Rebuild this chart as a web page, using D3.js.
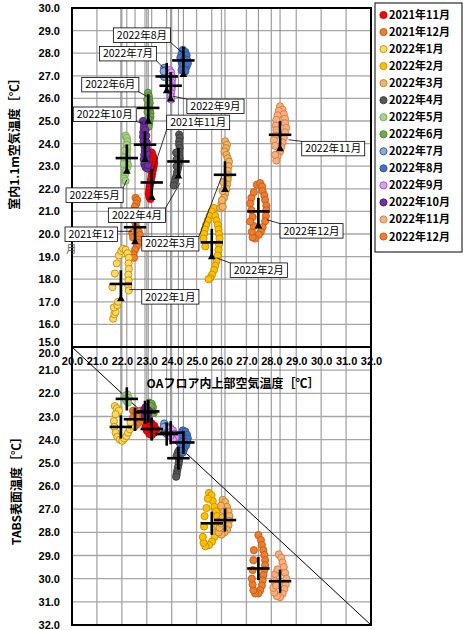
<!DOCTYPE html>
<html>
<head>
<meta charset="utf-8">
<script src="https://cdn.jsdelivr.net/npm/d3@7"></script>
<style>
  body { margin: 0; background: #fff; }
  svg { display: block; }
</style>
</head>
<body>
<svg id="chart" width="463" height="630"></svg>
<script>
// months in legend order
const months = ["2021年11月", "2021年12月", "2022年1月", "2022年2月", "2022年3月", "2022年4月",
  "2022年5月", "2022年6月", "2022年7月", "2022年8月", "2022年9月", "2022年10月", "2022年11月", "2022年12月"];
const fills = ["#FF0000", "#ED7D31", "#FFD966", "#FFC000", "#F2B46A", "#595959",
  "#A9D18E", "#70AD47", "#8FAADC", "#4472C4", "#DDA0F0", "#7030A0", "#F4B183", "#ED7D31"];
const strokes = ["#C00000", "#C55A11", "#BF9000", "#BF9000", "#B98027", "#3A3A3A",
  "#70AD47", "#507E32", "#2F5597", "#2F5597", "#9E48C8", "#4B1F6F", "#D9783A", "#C55A11"];

// monthly means: OA floor temp (x), room 1.1m temp (top), TABS surface (bottom)
const meanX   = [23.20, 22.53, 21.96, 25.61, 26.14, 24.27, 22.20, 23.06, 23.80, 24.47, 23.96, 22.93, 28.35, 27.48];
const meanTop = [22.28, 20.30, 17.79, 19.63, 22.62, 23.21, 23.36, 25.58, 26.97, 27.68, 26.56, 23.95, 24.39, 21.00];
const meanBot = [23.54, 23.12, 23.45, 27.61, 27.47, 24.80, 22.24, 22.78, 23.76, 24.12, 23.70, 22.82, 30.11, 29.56];
const triTop  = [21.60, 19.65, 17.12, 18.98, 21.96, 22.55, 22.77, 24.98, 26.33, 27.05, 25.96, 23.29, 23.76, 20.34];
const errX   = [0.45, 0.45, 0.45, 0.45, 0.45, 0.45, 0.45, 0.45, 0.45, 0.45, 0.45, 0.45, 0.45, 0.45];
const errTop = [0.6, 0.6, 0.6, 0.6, 0.6, 0.6, 0.6, 0.6, 0.6, 0.6, 0.6, 0.6, 0.6, 0.6];
const errBot = [0.5, 0.5, 0.5, 0.5, 0.5, 0.5, 0.5, 0.5, 0.5, 0.5, 0.5, 0.5, 0.5, 0.5];

// daily points, top chart [OA floor temp, room 1.1m temp]
const topPts = [
  [[23.2,23.6],[23.25,23.45],[23.28,23.3],[23.3,23.15],[23.28,23.0],[23.25,22.85],[23.22,22.7],[23.2,22.55],[23.17,22.4],[23.15,22.25],[23.12,22.1],[23.1,21.95],[23.08,21.8],[23.1,21.65],[23.15,21.55],[23.05,22.9],[23.08,23.1],[23.12,23.3]],
  [[22.55,21.6],[22.62,21.5],[22.58,21.35],[22.52,21.2],[22.48,21.0],[22.45,20.8],[22.5,20.6],[22.55,20.45],[22.62,20.25],[22.68,20.1],[22.72,19.95],[22.7,19.75],[22.66,19.6],[22.6,19.45],[22.53,19.3],[22.47,19.1],[22.49,18.95],[22.42,20.05],[22.45,19.85]],
  [[21.65,16.25],[21.7,16.45],[21.75,16.55],[21.68,16.75],[21.82,16.85],[21.85,17.0],[21.62,17.65],[21.72,18.25],[21.8,18.7],[21.88,19.05],[21.98,19.25],[22.05,19.35],[22.15,19.3],[22.23,19.15],[22.28,18.95],[22.27,18.7],[22.28,18.45],[22.26,18.2],[22.27,17.95],[22.26,17.7],[22.28,17.5]],
  [[25.7,21.15],[25.6,21.0],[25.52,20.8],[25.45,20.6],[25.38,20.4],[25.33,20.2],[25.3,20.0],[25.28,19.8],[25.35,19.45],[25.75,20.8],[25.8,20.6],[25.85,20.4],[25.88,20.2],[25.9,20.0],[25.92,19.8],[25.9,19.55],[25.88,19.3],[25.85,19.05],[25.8,18.8],[25.75,18.6],[25.7,18.4],[25.62,18.2],[25.55,18.05],[25.48,18.0]],
  [[26.15,24.1],[26.22,23.95],[26.18,23.8],[26.12,23.65],[26.2,23.5],[26.25,23.35],[26.3,23.2],[26.28,23.0],[26.25,22.8],[26.28,22.6],[26.25,22.4],[26.22,22.2],[26.2,22.0],[26.15,21.8],[26.1,21.6],[26.0,21.35],[25.95,21.15],[26.05,21.2],[26.02,21.5],[26.05,21.9],[26.08,22.3]],
  [[24.3,24.4],[24.32,24.25],[24.3,24.1],[24.3,23.95],[24.32,23.8],[24.3,23.65],[24.3,23.5],[24.32,23.35],[24.3,23.2],[24.28,23.05],[24.25,22.9],[24.22,22.75],[24.2,22.6],[24.15,22.45],[24.12,22.3],[24.08,22.15],[24.2,23.3],[24.2,23.0],[24.18,23.6]],
  [[22.15,24.35],[22.2,24.25],[22.22,24.1],[22.2,23.95],[22.22,23.8],[22.2,23.65],[22.2,23.5],[22.22,23.35],[22.22,23.2],[22.25,23.05],[22.2,22.9],[22.15,22.75],[22.12,22.6],[22.1,22.45],[22.15,22.35],[22.08,23.1],[22.1,23.4],[22.12,23.7]],
  [[23.05,26.25],[23.08,26.1],[23.1,25.95],[23.12,25.8],[23.1,25.65],[23.12,25.5],[23.15,25.35],[23.15,25.2],[23.12,25.05],[23.1,24.9],[23.05,25.1],[23.03,25.4],[23.05,25.7],[23.02,25.95],[23.08,24.75]],
  [[23.7,27.35],[23.75,27.25],[23.72,27.1],[23.78,27.0],[23.7,26.95],[23.8,27.2],[23.68,27.2]],
  [[24.45,28.15],[24.55,28.05],[24.4,27.95],[24.6,27.9],[24.35,27.8],[24.5,27.75],[24.62,27.7],[24.4,27.6],[24.55,27.55],[24.45,27.45],[24.6,27.4],[24.5,27.3],[24.4,27.25],[24.55,27.2],[24.65,27.55]],
  [[23.92,27.25],[23.98,27.15],[24.0,27.0],[24.02,26.85],[24.0,26.7],[24.02,26.55],[24.0,26.4],[23.98,26.25],[23.96,26.1],[23.98,25.95],[23.9,26.4],[23.9,26.7],[23.92,26.95]],
  [[22.85,25.0],[22.9,24.85],[22.88,24.7],[22.86,24.5],[22.85,24.3],[22.87,24.1],[22.9,23.9],[22.92,23.7],[22.9,23.5],[22.88,23.3],[22.9,23.1],[22.95,22.95],[23.02,22.9],[23.05,23.05],[23.0,23.3],[23.02,23.55],[23.0,23.8],[23.0,24.05],[22.98,24.35],[22.95,24.6]],
  [[28.35,25.65],[28.45,25.5],[28.3,25.45],[28.5,25.3],[28.25,25.25],[28.55,25.1],[28.2,25.05],[28.55,24.9],[28.18,24.8],[28.6,24.7],[28.2,24.6],[28.55,24.5],[28.15,24.35],[28.5,24.25],[28.45,24.05],[28.1,24.15],[28.4,23.85],[28.35,23.65],[28.25,23.45],[28.2,23.25],[28.15,23.5],[28.15,23.9]],
  [[27.42,22.18],[27.55,22.25],[27.63,22.1],[27.65,21.9],[27.72,21.7],[27.75,21.5],[27.8,21.25],[27.8,21.05],[27.78,20.8],[27.75,20.56],[27.65,20.3],[27.58,20.1],[27.5,19.97],[27.35,19.8],[27.25,19.85],[27.22,20.1],[27.3,20.35],[27.2,21.6],[27.15,21.35],[27.2,21.05],[27.25,20.75],[27.15,20.55],[27.3,21.85]]
];

// daily points, bottom chart [OA floor temp, TABS surface temp]
const botPts = [
  [[23.0,23.3],[23.1,23.25],[23.2,23.3],[23.3,23.4],[23.38,23.55],[23.3,23.7],[23.2,23.8],[23.1,23.75],[23.0,23.6],[22.95,23.45],[23.15,23.5],[23.25,23.6]],
  [[22.45,22.75],[22.55,22.8],[22.65,22.85],[22.7,22.95],[22.72,23.1],[22.68,23.25],[22.6,23.35],[22.5,23.45],[22.42,23.4],[22.4,23.2],[22.45,23.05],[22.75,22.75],[22.6,23.0]],
  [[21.72,22.55],[21.8,22.65],[21.88,22.75],[21.75,22.9],[21.68,23.2],[21.7,23.45],[21.75,23.7],[21.82,23.88],[21.92,24.0],[22.02,24.05],[22.1,23.95],[22.18,23.85],[22.25,23.7],[22.32,23.55],[22.38,23.4],[22.35,23.25]],
  [[25.5,26.3],[25.6,26.4],[25.65,26.65],[25.72,26.9],[25.78,27.1],[25.82,27.3],[25.85,27.55],[25.82,27.75],[25.78,28.0],[25.72,28.2],[25.62,28.4],[25.5,28.55],[25.35,28.6],[25.28,28.45],[25.25,28.2],[25.3,27.75],[25.32,27.3],[25.4,26.95],[25.45,26.55]],
  [[26.05,26.6],[26.15,26.7],[26.22,26.9],[26.28,27.1],[26.32,27.3],[26.3,27.5],[26.28,27.7],[26.22,27.9],[26.12,28.0],[26.0,28.1],[25.88,28.0],[25.92,27.8],[26.0,27.6],[26.05,27.35],[26.08,27.05],[25.98,26.85]],
  [[24.3,24.45],[24.35,24.6],[24.32,24.75],[24.3,24.9],[24.28,25.05],[24.25,25.2],[24.22,25.35],[24.2,25.5],[24.18,25.6],[24.25,24.55],[24.2,24.7]],
  [[22.15,22.1],[22.22,22.05],[22.28,22.2],[22.2,22.35],[22.15,22.25],[22.25,22.4]],
  [[23.1,22.4],[23.2,22.45],[23.25,22.6],[23.2,22.75],[23.1,22.85],[23.15,22.55],[23.28,22.85]],
  [[23.7,23.3],[23.78,23.4],[23.85,23.5],[23.9,23.65],[23.8,23.75],[23.72,23.6],[23.68,23.45]],
  [[24.45,23.6],[24.55,23.65],[24.62,23.8],[24.65,23.95],[24.62,24.1],[24.58,24.25],[24.5,24.4],[24.45,24.55],[24.38,24.4],[24.35,24.2],[24.4,24.0],[24.42,23.8]],
  [[23.95,23.5],[24.05,23.6],[24.12,23.75],[24.15,23.9],[24.05,24.0],[23.95,23.85],[23.9,23.7]],
  [[22.9,22.7],[22.98,22.8],[23.05,22.9],[23.0,23.05],[22.92,23.0],[23.08,22.75],[22.95,22.6]],
  [[28.3,28.95],[28.4,29.1],[28.45,29.3],[28.5,29.5],[28.55,29.75],[28.6,30.0],[28.58,30.25],[28.52,30.45],[28.45,30.65],[28.35,30.8],[28.22,30.75],[28.12,30.6],[28.08,30.4],[28.12,30.1],[28.15,29.8],[28.2,30.3],[28.25,29.6]],
  [[27.48,28.12],[27.58,28.33],[27.62,28.55],[27.68,28.77],[27.72,28.98],[27.75,29.2],[27.75,29.42],[27.72,29.63],[27.68,29.85],[27.65,30.08],[27.62,30.3],[27.55,30.5],[27.48,30.64],[27.35,30.64],[27.28,30.5],[27.25,30.25],[27.22,30.0],[27.25,29.63],[27.28,29.2],[27.3,28.77]]
];

const xTicks = d3.range(20, 32.01, 1);
const topTicks = d3.range(15, 30.01, 1);
const botTicks = d3.range(20, 32.01, 1);

// callout boxes (top-left corner and leader target, in top-chart data units)
const callouts = [
  {m: 9,  text: "2022年8月",  bx: 21.66, by: 29.12, tx: 24.45, ty: 28.0},
  {m: 8,  text: "2022年7月",  bx: 21.10, by: 28.30, tx: 23.67, ty: 27.35},
  {m: 7,  text: "2022年6月",  bx: 20.39, by: 26.93, tx: 23.0,  ty: 26.09},
  {m: 10, text: "2022年9月",  bx: 24.61, by: 25.97, tx: 24.07, ty: 26.09},
  {m: 11, text: "2022年10月", bx: 20.05, by: 25.62, tx: 22.86, ty: 24.9},
  {m: 0,  text: "2021年11月", bx: 23.80, by: 25.26, tx: 23.2,  ty: 22.62},
  {m: 12, text: "2022年11月", bx: 29.22, by: 24.10, tx: 28.69, ty: 24.17},
  {m: 6,  text: "2022年5月",  bx: 19.76, by: 22.04, tx: 22.2,  ty: 22.4},
  {m: 5,  text: "2022年4月",  bx: 21.46, by: 21.15, tx: 24.34, ty: 22.26},
  {m: 13, text: "2022年12月", bx: 28.35, by: 20.46, tx: 27.82, ty: 20.63},
  {m: 1,  text: "2021年12",   bx: 19.72, by: 20.31, tx: 22.4,  ty: 20.12},
  {m: 4,  text: "2022年3月",  bx: 22.80, by: 19.89, tx: 26.01, ty: 22.55},
  {m: 3,  text: "2022年2月",  bx: 26.35, by: 18.72, tx: 25.81, ty: 18.94},
  {m: 2,  text: "2022年1月",  bx: 22.80, by: 17.54, tx: 22.3,  ty: 17.54}
];

const svg = d3.select("#chart");
const tickFont = "'Liberation Sans', Arial, sans-serif";
const jpFont = "'Noto Sans CJK JP', 'Noto Sans', sans-serif";

const x = d3.scaleLinear().domain([20, 32]).range([72, 371]);
const yTop = d3.scaleLinear().domain([15, 30]).range([347, 8]);
const yBot = d3.scaleLinear().domain([20, 32]).range([347, 625]);
const plotW = x.range()[1] - x.range()[0];

// gridlines
const grid = svg.append("g").attr("stroke", "#A6A6A6").attr("stroke-width", 1.3);
grid.selectAll(".gt").data(topTicks).enter().append("line")
  .attr("x1", x(20)).attr("x2", x(32)).attr("y1", d => yTop(d)).attr("y2", d => yTop(d));
grid.selectAll(".gb").data(botTicks).enter().append("line")
  .attr("x1", x(20)).attr("x2", x(32)).attr("y1", d => yBot(d)).attr("y2", d => yBot(d));
grid.selectAll(".gv").data(xTicks).enter().append("line")
  .attr("x1", d => x(d)).attr("x2", d => x(d)).attr("y1", yTop(30)).attr("y2", yBot(32));

// vertical connectors from top of chart to the TABS mean
svg.append("g").selectAll("line").data(meanX).enter().append("line")
  .attr("x1", d => x(d)).attr("x2", d => x(d))
  .attr("y1", yTop(30)).attr("y2", (d, i) => yBot(meanBot[i]))
  .attr("stroke", "#7F7F7F").attr("stroke-width", 0.9);

// y = x reference line in bottom chart
svg.append("line")
  .attr("x1", x(20)).attr("y1", yBot(20)).attr("x2", x(32)).attr("y2", yBot(32))
  .attr("stroke", "#000").attr("stroke-width", 1);

// daily points
function drawPoints(pts, yScale) {
  pts.forEach((series, i) => {
    svg.append("g").selectAll("circle").data(series).enter().append("circle")
      .attr("cx", d => x(d[0])).attr("cy", d => yScale(d[1])).attr("r", 3.6)
      .attr("fill", fills[i]).attr("stroke", strokes[i]).attr("stroke-width", 0.9);
  });
}
drawPoints(topPts, yTop);
drawPoints(botPts, yBot);

// mean crosses
function drawCrosses(means, errs, yScale) {
  const g = svg.append("g").attr("stroke", "#000").attr("stroke-width", 2.6);
  meanX.forEach((mx, i) => {
    g.append("line").attr("x1", x(mx - errX[i])).attr("x2", x(mx + errX[i]))
      .attr("y1", yScale(means[i])).attr("y2", yScale(means[i]));
    g.append("line").attr("x1", x(mx)).attr("x2", x(mx))
      .attr("y1", yScale(means[i] - errs[i])).attr("y2", yScale(means[i] + errs[i]));
  });
}
drawCrosses(meanTop, errTop, yTop);
drawCrosses(meanBot, errBot, yBot);

// triangles (top chart)
svg.append("g").selectAll("path").data(triTop).enter().append("path")
  .attr("d", d3.symbol(d3.symbolTriangle).size(26))
  .attr("transform", (d, i) => `translate(${x(meanX[i])},${yTop(d)})`)
  .attr("fill", "#000");

// plot borders
svg.append("rect").attr("x", x(20)).attr("y", yTop(30)).attr("width", plotW).attr("height", yTop(15) - yTop(30))
  .attr("fill", "none").attr("stroke", "#000").attr("stroke-width", 2);
svg.append("rect").attr("x", x(20)).attr("y", yBot(20)).attr("width", plotW).attr("height", yBot(32) - yBot(20))
  .attr("fill", "none").attr("stroke", "#000").attr("stroke-width", 2);

// callouts
const cg = svg.append("g");
callouts.forEach(c => {
  const bx = x(c.bx), by = yTop(c.by);
  const t = cg.append("text").attr("font-family", jpFont).attr("font-size", 10.5).attr("fill", "#000")
    .attr("x", bx + 3.5).attr("y", by + 11).text(c.text);
  const w = t.node().getComputedTextLength() + 7, h = 14.5;
  const tx = x(c.tx), ty = yTop(c.ty);
  const sx = Math.max(bx, Math.min(bx + w, tx)), sy = Math.max(by, Math.min(by + h, ty));
  cg.insert("line", "text").attr("x1", sx).attr("y1", sy).attr("x2", tx).attr("y2", ty)
    .attr("stroke", "#000").attr("stroke-width", 0.8);
  cg.insert("rect", "text").attr("x", bx).attr("y", by).attr("width", w).attr("height", h)
    .attr("fill", "#fff").attr("stroke", "#000").attr("stroke-width", 0.8);
  if (c.text === "2021年12") {
    cg.append("text").attr("font-family", jpFont).attr("font-size", 10.5).attr("fill", "#555")
      .attr("x", bx + 1).attr("y", by + h + 12).text("月");
  }
});

// y tick labels
const yAxisTop = d3.axisLeft(yTop).tickValues(topTicks).tickFormat(d3.format(".1f")).tickSize(0).tickPadding(12);
const yAxisBot = d3.axisLeft(yBot).tickValues(botTicks).tickFormat(d3.format(".1f")).tickSize(0).tickPadding(12);
const gTop = svg.append("g").attr("transform", `translate(${x(20)},0)`).call(yAxisTop);
const gBot = svg.append("g").attr("transform", `translate(${x(20)},0)`).call(yAxisBot);
[gTop, gBot].forEach(g => {
  g.select(".domain").remove();
  g.selectAll("text").attr("font-family", tickFont).attr("font-size", 11).attr("font-weight", "bold").attr("fill", "#000");
});
gTop.selectAll(".tick").filter(d => d === 15).select("text").attr("dy", "-0.15em");
gBot.selectAll(".tick").filter(d => d === 20).select("text").attr("dy", "0.9em");

// x tick labels at top of bottom chart
const xAxis = d3.axisBottom(x).tickValues(xTicks).tickFormat(d3.format(".1f")).tickSize(0).tickPadding(10);
const gx = svg.append("g").attr("transform", `translate(0,${yBot(20)})`).call(xAxis);
gx.select(".domain").remove();
gx.selectAll("text").attr("font-family", tickFont).attr("font-size", 11).attr("font-weight", "bold").attr("fill", "#000");

// axis titles
svg.append("text").attr("x", 233).attr("y", 388).attr("text-anchor", "middle")
  .attr("font-family", jpFont).attr("font-size", 12).attr("font-weight", "bold").text("OAフロア内上部空気温度［℃］");
svg.append("text").attr("transform", "translate(19,141) rotate(-90)").attr("text-anchor", "middle")
  .attr("font-family", jpFont).attr("font-size", 12).attr("font-weight", "bold").text("室内1.1m空気温度［℃］");
svg.append("text").attr("transform", "translate(21,488) rotate(-90)").attr("text-anchor", "middle")
  .attr("font-family", jpFont).attr("font-size", 12).attr("font-weight", "bold").text("TABS表面温度［℃］");

// legend
const lg = svg.append("g");
lg.append("rect").attr("x", 375).attr("y", 3).attr("width", 87).attr("height", 249)
  .attr("fill", "#fff").attr("stroke", "#000").attr("stroke-width", 1);
const rowY = d3.scalePoint().domain(months).range([15, 236.5]);
const rows = lg.selectAll("g.row").data(months).enter().append("g")
  .attr("transform", d => `translate(0,${rowY(d)})`);
rows.append("circle").attr("cx", 383.5).attr("cy", 0).attr("r", 3.6)
  .attr("fill", (d, i) => fills[i]).attr("stroke", (d, i) => strokes[i]).attr("stroke-width", 0.9);
rows.append("text").attr("x", 389).attr("y", 4).attr("font-family", jpFont).attr("font-size", 11)
  .attr("font-weight", "bold").text(d => d);
</script>
</body>
</html>
